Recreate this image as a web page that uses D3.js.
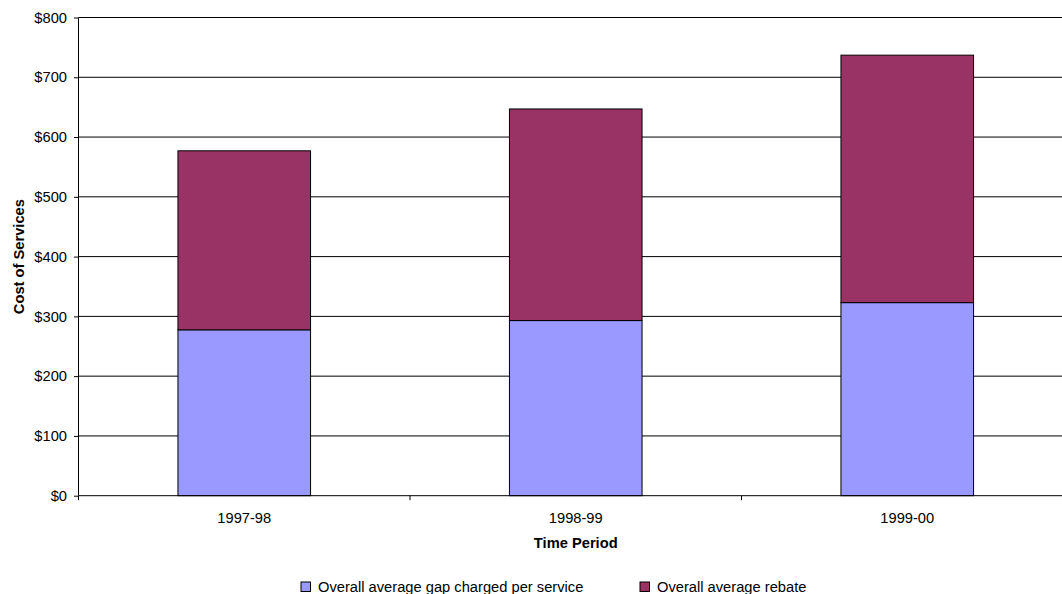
<!DOCTYPE html>
<html>
<head>
<meta charset="utf-8">
<script src="https://cdn.jsdelivr.net/npm/d3@7"></script>
<style>
  html, body { margin: 0; padding: 0; background: #fff; }
  svg { display: block; font-family: "Liberation Sans", Arial, sans-serif; }
</style>
</head>
<body>
<svg id="chart" width="1062" height="594"></svg>
<script>
// Time periods on the category axis
const periods = ["1997-98", "1998-99", "1999-00"];
// Overall average gap charged per service ($)
const gapValues = [277.5, 293, 323];
// Overall average rebate ($)
const rebateValues = [299.5, 354, 414];
// Value axis ticks
const yTicks = [0, 100, 200, 300, 400, 500, 600, 700, 800];

const seriesNames = ["Overall average gap charged per service", "Overall average rebate"];
const seriesColors = ["#9999FF", "#993366"];

const svg = d3.select("#chart");
const plot = { left: 78.5, right: 1073, top: 17.5, bottom: 495.7 };

const x = d3.scaleBand()
  .domain(periods)
  .range([plot.left, plot.right])
  .paddingInner(0.6)
  .paddingOuter(0.3);

const y = d3.scaleLinear()
  .domain([0, 800])
  .range([plot.bottom, plot.top]);

const fs = 14.7;

// Horizontal gridlines
svg.append("g")
  .selectAll("line")
  .data(yTicks.filter(d => d > 0))
  .join("line")
  .attr("x1", plot.left)
  .attr("x2", plot.right)
  .attr("y1", d => y(d))
  .attr("y2", d => y(d))
  .attr("stroke", "#000")
  .attr("stroke-width", 1);

// Stacked data
const rows = periods.map((p, i) => ({ period: p, gap: gapValues[i], rebate: rebateValues[i] }));
const stack = d3.stack().keys(["gap", "rebate"])(rows);

svg.append("g")
  .selectAll("g")
  .data(stack)
  .join("g")
  .attr("fill", (d, i) => seriesColors[i])
  .selectAll("rect")
  .data(d => d)
  .join("rect")
  .attr("x", d => x(d.data.period))
  .attr("width", x.bandwidth())
  .attr("y", d => y(d[1]))
  .attr("height", d => y(d[0]) - y(d[1]))
  .attr("stroke", "#000")
  .attr("stroke-width", 1);

// Y axis
const yAxis = d3.axisLeft(y)
  .tickValues(yTicks)
  .tickSize(4.5)
  .tickPadding(7)
  .tickFormat(d => "$" + d);

const yg = svg.append("g")
  .attr("transform", `translate(${plot.left},0)`)
  .call(yAxis);
yg.select(".domain").attr("stroke", "#000").attr("d", `M0,${plot.top}V${plot.bottom}`);
yg.selectAll(".tick line").attr("stroke", "#000");
yg.selectAll(".tick text")
  .attr("font-size", fs)
  .attr("font-family", "Liberation Sans, Arial, sans-serif")
  .attr("fill", "#000");

// X axis: category labels and separator ticks
const xg = svg.append("g");
xg.append("line")
  .attr("x1", plot.left).attr("x2", plot.right)
  .attr("y1", plot.bottom).attr("y2", plot.bottom)
  .attr("stroke", "#000").attr("stroke-width", 1);

const step = x.step();
const boundaries = d3.range(periods.length + 1).map(i => plot.left + i * step);
xg.selectAll("line.sep")
  .data(boundaries)
  .join("line")
  .attr("class", "sep")
  .attr("x1", d => d).attr("x2", d => d)
  .attr("y1", plot.bottom).attr("y2", plot.bottom + 4.5)
  .attr("stroke", "#000");

xg.selectAll("text")
  .data(periods)
  .join("text")
  .attr("x", d => x(d) + x.bandwidth() / 2)
  .attr("y", 523)
  .attr("text-anchor", "middle")
  .attr("font-size", fs)
  .attr("fill", "#000")
  .text(d => d);

// Axis titles
svg.append("text")
  .attr("x", (plot.left + plot.right) / 2)
  .attr("y", 548)
  .attr("text-anchor", "middle")
  .attr("font-size", fs)
  .attr("font-weight", "bold")
  .text("Time Period");

svg.append("text")
  .attr("transform", `translate(23.5,${(plot.top + plot.bottom) / 2}) rotate(-90)`)
  .attr("text-anchor", "middle")
  .attr("font-size", fs)
  .attr("font-weight", "bold")
  .text("Cost of Services");

// Legend
const legendX = [301, 640];
const legend = svg.append("g")
  .selectAll("g")
  .data(seriesNames)
  .join("g")
  .attr("transform", (d, i) => `translate(${legendX[i]},582)`);
legend.append("rect")
  .attr("width", 9.5)
  .attr("height", 9.5)
  .attr("fill", (d, i) => seriesColors[i])
  .attr("stroke", "#000")
  .attr("stroke-width", 1);
legend.append("text")
  .attr("x", 17)
  .attr("y", 10)
  .attr("font-size", fs)
  .attr("fill", "#000")
  .text(d => d);
</script>
</body>
</html>
